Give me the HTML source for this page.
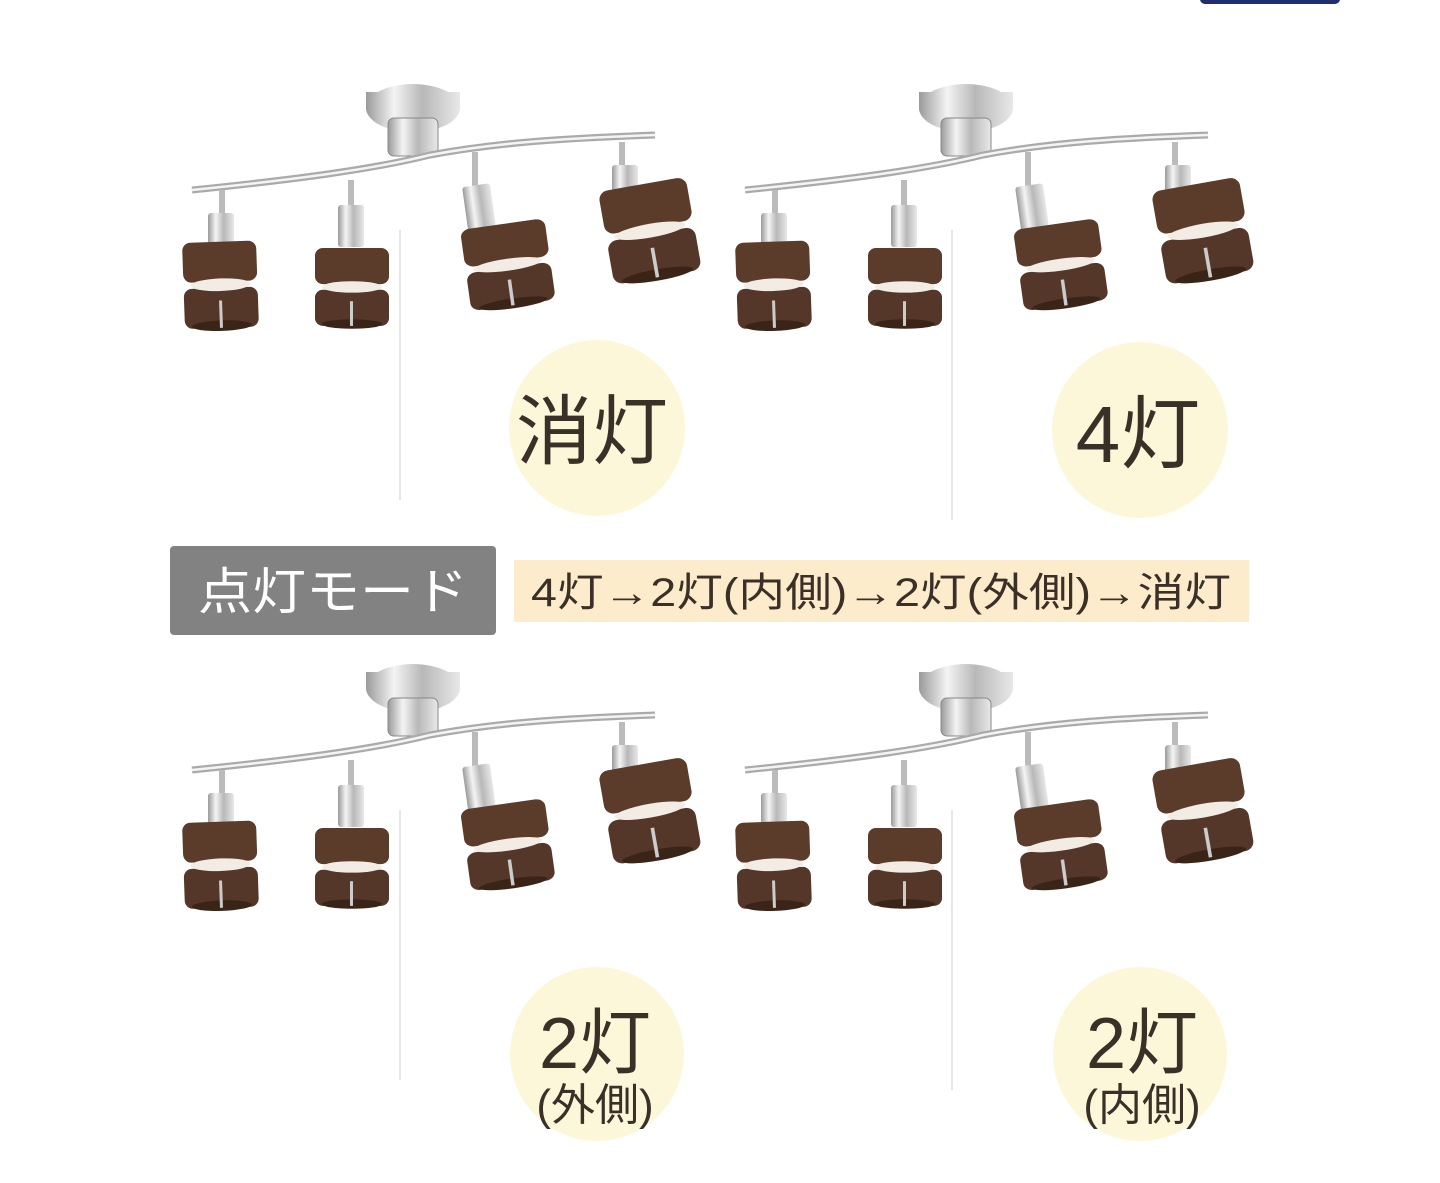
<!DOCTYPE html>
<html><head><meta charset="utf-8"><style>
html,body{margin:0;padding:0;background:#fff;}
svg{display:block}
text{font-family:"Liberation Sans","Noto Sans CJK JP",sans-serif;}
</style></head><body>
<svg width="1440" height="1183" viewBox="0 0 1440 1183" xmlns="http://www.w3.org/2000/svg">
<defs>
<linearGradient id="chrome" x1="0" y1="0" x2="1" y2="0">
<stop offset="0" stop-color="#9a9a9a"/><stop offset="0.3" stop-color="#f4f4f4"/><stop offset="0.6" stop-color="#b8b8b8"/><stop offset="1" stop-color="#e8e8e8"/>
</linearGradient>
<g id="shade">
<rect x="0" y="0" width="74" height="38" rx="8" fill="#5b3b2a"/>
<rect x="0" y="44" width="74" height="38" rx="8" fill="#55372a"/>
<ellipse cx="37" cy="41" rx="30" ry="6" fill="#f2ece4"/>
<ellipse cx="37" cy="80" rx="30" ry="5" fill="#3a2418"/>
<rect x="35" y="56" width="3" height="26" fill="#ccc"/>
</g>
<g id="lamp">
<ellipse cx="243" cy="28" rx="47" ry="24" fill="url(#chrome)"/>
<rect x="196" y="12" width="94" height="18" fill="url(#chrome)"/>
<rect x="218" y="38" width="50" height="38" rx="6" fill="url(#chrome)" stroke="#888" stroke-width="1"/>
<path d="M22 110 C120 100 200 90 260 75 C330 62 400 58 485 55" stroke="#aaa" stroke-width="7" fill="none"/>
<path d="M22 110 C120 100 200 90 260 75 C330 62 400 58 485 55" stroke="#f4f4f4" stroke-width="2.5" fill="none"/>
<rect x="49" y="110" width="6" height="25" fill="#bbb"/>
<rect x="38" y="133" width="26" height="32" rx="3" fill="url(#chrome)"/>
<use href="#shade" transform="translate(12,163) rotate(-2) scale(1.0,1.05)"/>
<rect x="178" y="100" width="6" height="28" fill="#bbb"/>
<rect x="168" y="125" width="26" height="42" rx="3" fill="url(#chrome)"/>
<use href="#shade" transform="translate(145,168) scale(1,0.95)"/>
<rect x="302" y="72" width="6" height="35" fill="#bbb"/>
<rect x="295" y="105" width="28" height="45" rx="3" fill="url(#chrome)" transform="rotate(-8 309 127)"/>
<use href="#shade" transform="translate(290,150) rotate(-8) scale(1.15,1)"/>
<rect x="449" y="62" width="6" height="25" fill="#bbb"/>
<rect x="442" y="85" width="26" height="30" rx="3" fill="url(#chrome)"/>
<use href="#shade" transform="translate(428,112) rotate(-10) scale(1.2,1.15)"/>
</g>
</defs>
<rect x="1200" y="-8" width="140" height="12" rx="5" fill="#1e2e6e"/>
<line x1="400" y1="230" x2="400" y2="500" stroke="#ddd" stroke-width="1.5"/>
<line x1="952" y1="230" x2="952" y2="520" stroke="#ddd" stroke-width="1.5"/>
<line x1="400" y1="810" x2="400" y2="1080" stroke="#ddd" stroke-width="1.5"/>
<line x1="952" y1="810" x2="952" y2="1090" stroke="#ddd" stroke-width="1.5"/>
<use href="#lamp" transform="translate(170,80)"/>
<use href="#lamp" transform="translate(723,80)"/>
<use href="#lamp" transform="translate(170,660)"/>
<use href="#lamp" transform="translate(723,660)"/>
<circle cx="597" cy="428" r="88" fill="#fdf7d9"/>
<circle cx="1140" cy="430" r="88" fill="#fdf7d9"/>
<circle cx="597" cy="1054" r="87" fill="#fdf7d9"/>
<circle cx="1140" cy="1054" r="87" fill="#fdf7d9"/>
<text x="592" y="458" font-size="76" fill="#3a3028" text-anchor="middle">消灯</text>
<text x="1138" y="462" font-size="80" fill="#3a3028" text-anchor="middle">4灯</text>
<text x="595" y="1068" font-size="72" fill="#3a3028" text-anchor="middle">2灯</text>
<text x="595" y="1120" font-size="44" fill="#3a3028" text-anchor="middle">(外側)</text>
<text x="1142" y="1068" font-size="72" fill="#3a3028" text-anchor="middle">2灯</text>
<text x="1142" y="1120" font-size="44" fill="#3a3028" text-anchor="middle">(内側)</text>
<rect x="170" y="546" width="326" height="89" rx="4" fill="#828282"/>
<text x="333" y="609" font-size="50" fill="#fff" text-anchor="middle" textLength="270" lengthAdjust="spacingAndGlyphs">点灯モード</text>
<rect x="514" y="560" width="735" height="62" fill="#fdeccb"/>
<text x="881" y="606" font-size="40" fill="#3a3028" text-anchor="middle" textLength="700" lengthAdjust="spacingAndGlyphs">4灯→2灯(内側)→2灯(外側)→消灯</text>
</svg>
</body></html>
